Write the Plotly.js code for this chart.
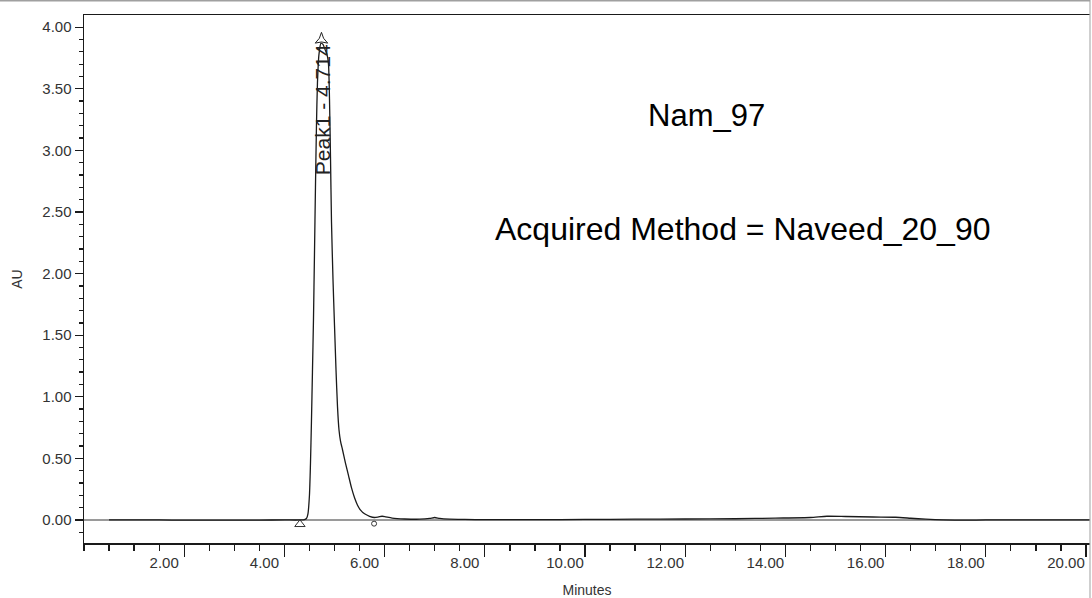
<!DOCTYPE html>
<html>
<head>
<meta charset="utf-8">
<script src="https://cdn.plot.ly/plotly-3.0.1.min.js"></script>
<style>html,body{margin:0;padding:0;background:#fff;}#chart{width:1092px;height:598px;}</style>
</head>
<body>
<div id="chart"></div>
<script>
// Chromatogram trace (time in minutes, absorbance in AU)
var timeMin = [0.5, 1.0, 1.5, 2.0, 2.5, 3.0, 3.5, 4.0, 4.3, 4.40, 4.44, 4.47, 4.50, 4.52, 4.54, 4.56, 4.58, 4.60, 4.62, 4.64, 4.66, 4.69, 4.73, 4.77, 4.81, 4.85, 4.88, 4.90, 4.92, 4.94, 4.97, 5.00, 5.03, 5.06, 5.09, 5.12, 5.16, 5.22, 5.28, 5.34, 5.40, 5.46, 5.52, 5.60, 5.70, 5.80, 5.88, 5.95, 6.02, 6.15, 6.40, 6.70, 6.90, 7.00, 7.10, 7.30, 7.6, 8.0, 9.0, 10.0, 11.0, 12.0, 13.0, 13.8, 14.5, 14.83, 15.2, 15.75, 16.2, 16.5, 16.8, 17.15, 17.6, 18.0, 19.0, 20.0, 20.1];
var absAU   = [0.0, 0.0, 0.0, -0.002, -0.002, -0.002, -0.001, 0.0, 0.0, 0.002, 0.012, 0.05, 0.20, 0.45, 0.80, 1.20, 1.62, 2.15, 2.70, 3.20, 3.55, 3.78, 3.87, 3.86, 3.82, 3.78, 3.70, 3.42, 2.95, 2.42, 1.95, 1.58, 1.22, 0.92, 0.73, 0.64, 0.57, 0.46, 0.36, 0.26, 0.18, 0.12, 0.08, 0.05, 0.03, 0.02, 0.025, 0.03, 0.025, 0.015, 0.008, 0.006, 0.012, 0.02, 0.012, 0.006, 0.004, 0.003, 0.002, 0.004, 0.006, 0.008, 0.01, 0.015, 0.02, 0.03, 0.028, 0.024, 0.022, 0.014, 0.006, 0.0, -0.002, 0.0, 0.0, 0.0, 0.0];

// Peak integration markers
var peakStart = {t: 4.31, au: -0.035};
var peakEnd   = {t: 5.79, au: -0.03};
var peakApex  = {t: 4.74, au: 3.9};
var peakLabel = "Peak1 - 4.714";
var peakLabelPos = {t: 4.76, au: 3.33};

var sampleName = "Nam_97";
var methodText = "Acquired Method = Naveed_20_90";

var xTickVals = [2, 4, 6, 8, 10, 12, 14, 16, 18, 20];
var xTickText = ["2.00", "4.00", "6.00", "8.00", "10.00", "12.00", "14.00", "16.00", "18.00", "20.00"];
var yTickVals = [0, 0.5, 1, 1.5, 2, 2.5, 3, 3.5, 4];
var yTickText = ["0.00", "0.50", "1.00", "1.50", "2.00", "2.50", "3.00", "3.50", "4.00"];

var FONT = "Liberation Sans, Arial, sans-serif";

var traces = [
  {x: timeMin, y: absAU, type: "scatter", mode: "lines",
   line: {color: "#1a1a1a", width: 1.3, shape: "spline", smoothing: 0.6}, hoverinfo: "skip"},
  {x: [peakStart.t], y: [peakStart.au], type: "scatter", mode: "markers",
   marker: {symbol: "triangle-up-open", size: 9, color: "#333", line: {width: 1}}},
  {x: [peakEnd.t], y: [peakEnd.au], type: "scatter", mode: "markers",
   marker: {symbol: "circle-open", size: 5, color: "#333", line: {width: 1}}},
  {x: [peakApex.t], y: [peakApex.au], type: "scatter", mode: "markers",
   marker: {symbol: "star-triangle-up-open", size: 9, color: "#222", line: {width: 1}}}
];

var layout = {
  width: 1092, height: 598,
  margin: {l: 84, r: 2, t: 15, b: 55},
  paper_bgcolor: "#fff", plot_bgcolor: "#fff",
  showlegend: false,
  font: {family: FONT, color: "#333"},
  xaxis: {
    range: [0, 20.08], showgrid: false, zeroline: false,
    showline: true, linecolor: "#1a1a1a", linewidth: 1.5, mirror: true,
    ticks: "outside", ticklen: 12, tickwidth: 1.3, tickcolor: "#1a1a1a",
    tickvals: xTickVals, ticktext: xTickText,
    tickfont: {family: FONT, size: 15, color: "#333"},
    ticklabelshift: -20, ticklabelstandoff: -7,
    minor: {dtick: 0.5, tick0: 0, ticks: "outside", ticklen: 6, tickwidth: 1.3, tickcolor: "#1a1a1a", showgrid: false},
    title: {text: "Minutes", font: {family: FONT, size: 14, color: "#333"}, standoff: 19}
  },
  yaxis: {
    range: [-0.187, 4.099], showgrid: false,
    zeroline: true, zerolinecolor: "#9a9a9a", zerolinewidth: 1.5,
    showline: true, linecolor: "#1a1a1a", linewidth: 1.5,
    ticks: "outside", ticklen: 8, tickwidth: 1.3, tickcolor: "#1a1a1a",
    tickvals: yTickVals, ticktext: yTickText,
    tickfont: {family: FONT, size: 15, color: "#333"},
    ticklabelstandoff: 0,
    minor: {dtick: 0.1, tick0: 0, ticks: "outside", ticklen: 4, tickwidth: 1.3, tickcolor: "#1a1a1a", showgrid: false},
    title: {text: "AU", font: {family: FONT, size: 14, color: "#333"}, standoff: 16}
  },
  shapes: [
    {type: "line", xref: "paper", yref: "paper", x0: 1, x1: 1, y0: -0.2, y1: 1.03, line: {color: "#b0b0b0", width: 1.2}},
    {type: "line", xref: "paper", yref: "paper", x0: -0.1, x1: 1, y0: 1.027, y1: 1.027, line: {color: "#a0a0a0", width: 1.5}}
  ],
  annotations: [
    {x: peakLabelPos.t, y: peakLabelPos.au, xref: "x", yref: "y", text: peakLabel, showarrow: false,
     textangle: -90, font: {family: FONT, size: 21, color: "#222"}},
    {x: 706, y: 115, xref: "x domain", yref: "y domain", text: sampleName, showarrow: false,
     xanchor: "center", yanchor: "middle", font: {family: FONT, size: 31, color: "#000"}},
    {x: 742, y: 229, xref: "x domain", yref: "y domain", text: methodText, showarrow: false,
     xanchor: "center", yanchor: "middle", font: {family: FONT, size: 32, color: "#000"}}
  ]
};
// convert pixel-based text positions to domain fractions
(function(){
  var L = layout.margin.l, T = layout.margin.t;
  var W = layout.width - layout.margin.l - layout.margin.r;
  var H = layout.height - layout.margin.t - layout.margin.b;
  for (var i = 1; i < 3; i++) {
    var a = layout.annotations[i];
    a.x = (a.x - L) / W;
    a.y = 1 - (a.y - T) / H;
  }
})();

Plotly.newPlot("chart", traces, layout, {displayModeBar: false, staticPlot: true});
</script>
</body>
</html>
